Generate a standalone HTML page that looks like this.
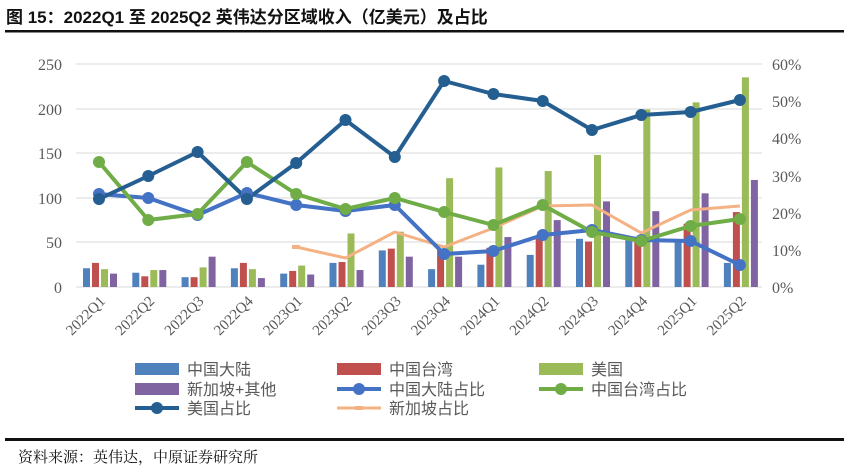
<!DOCTYPE html>
<html><head><meta charset="utf-8"><style>
html,body{margin:0;padding:0;background:#fff;}
svg{display:block;}
</style></head><body>
<svg width="844" height="472" viewBox="0 0 844 472" xmlns="http://www.w3.org/2000/svg">
<text x="6" y="23" font-family="Liberation Sans, Noto Sans CJK SC, sans-serif" font-size="17" font-weight="bold" fill="#111">图 15：2022Q1 至 2025Q2 英伟达分区域收入（亿美元）及占比</text>
<rect x="5" y="30" width="839" height="2.5" fill="#111"/>
<g stroke="#d9d9d9" stroke-width="1">
<line x1="76" y1="64" x2="762" y2="64"/><line x1="76" y1="109" x2="762" y2="109"/><line x1="76" y1="153" x2="762" y2="153"/><line x1="76" y1="198" x2="762" y2="198"/><line x1="76" y1="242" x2="762" y2="242"/><line x1="76" y1="287" x2="762" y2="287"/>
</g>
<g font-family="Liberation Serif, serif" font-size="16" fill="#595959">
<g text-anchor="end"><text x="62" y="70">250</text><text x="62" y="115">200</text><text x="62" y="159">150</text><text x="62" y="204">100</text><text x="62" y="248">50</text><text x="62" y="293">0</text></g>
<g><text x="772" y="70">60%</text><text x="772" y="107">50%</text><text x="772" y="144">40%</text><text x="772" y="182">30%</text><text x="772" y="219">20%</text><text x="772" y="256">10%</text><text x="772" y="293">0%</text></g>
</g>
<g transform="translate(0,287) scale(1,-0.892)">
<g fill="#4F81BD">
<rect x="83" y="0" width="7" height="21"/><rect x="132.3" y="0" width="7" height="16"/><rect x="181.6" y="0" width="7" height="11"/><rect x="230.9" y="0" width="7" height="21"/><rect x="280.2" y="0" width="7" height="15"/><rect x="329.5" y="0" width="7" height="27"/><rect x="378.8" y="0" width="7" height="41"/><rect x="428.1" y="0" width="7" height="20"/><rect x="477.4" y="0" width="7" height="25"/><rect x="526.7" y="0" width="7" height="36"/><rect x="576" y="0" width="7" height="54"/><rect x="625.3" y="0" width="7" height="53"/><rect x="674.6" y="0" width="7" height="53"/><rect x="723.9" y="0" width="7" height="27"/>
</g>
<g fill="#C0504D">
<rect x="92" y="0" width="7" height="27"/><rect x="141.3" y="0" width="7" height="12"/><rect x="190.6" y="0" width="7" height="11"/><rect x="239.9" y="0" width="7" height="27"/><rect x="289.2" y="0" width="7" height="18"/><rect x="338.5" y="0" width="7" height="28"/><rect x="387.8" y="0" width="7" height="43"/><rect x="437.1" y="0" width="7" height="43"/><rect x="486.4" y="0" width="7" height="44"/><rect x="535.7" y="0" width="7" height="56"/><rect x="585" y="0" width="7" height="51"/><rect x="634.3" y="0" width="7" height="51"/><rect x="683.6" y="0" width="7" height="71"/><rect x="732.9" y="0" width="7" height="84"/>
</g>
<g fill="#9BBB59">
<rect x="101" y="0" width="7" height="20"/><rect x="150.3" y="0" width="7" height="19"/><rect x="199.6" y="0" width="7" height="22"/><rect x="248.9" y="0" width="7" height="20"/><rect x="298.2" y="0" width="7" height="24"/><rect x="347.5" y="0" width="7" height="60"/><rect x="396.8" y="0" width="7" height="62"/><rect x="446.1" y="0" width="7" height="122"/><rect x="495.4" y="0" width="7" height="134"/><rect x="544.7" y="0" width="7" height="130"/><rect x="594" y="0" width="7" height="148"/><rect x="643.3" y="0" width="7" height="199"/><rect x="692.6" y="0" width="7" height="207"/><rect x="741.9" y="0" width="7" height="235"/>
</g>
<g fill="#8064A2">
<rect x="110" y="0" width="7" height="15"/><rect x="159.3" y="0" width="7" height="19"/><rect x="208.6" y="0" width="7" height="34"/><rect x="257.9" y="0" width="7" height="10"/><rect x="307.2" y="0" width="7" height="14"/><rect x="356.5" y="0" width="7" height="19"/><rect x="405.8" y="0" width="7" height="34"/><rect x="455.1" y="0" width="7" height="34"/><rect x="504.4" y="0" width="7" height="56"/><rect x="553.7" y="0" width="7" height="75"/><rect x="603" y="0" width="7" height="96"/><rect x="652.3" y="0" width="7" height="85"/><rect x="701.6" y="0" width="7" height="105"/><rect x="750.9" y="0" width="7" height="120"/>
</g>
</g>
<g fill="none" stroke-width="4" stroke-linejoin="round">
<polyline stroke="#F4B183" stroke-width="3" points="296.2,247 345.5,258 394.8,232 444.1,247 493.4,228 542.7,206 592,205 641.3,233 690.6,210 739.9,206"/>
<polyline stroke="#4472C4" points="99,194 148.3,198 197.6,215 246.9,193 296.2,205 345.5,211 394.8,205 444.1,254 493.4,251 542.7,235 592,230 641.3,240 690.6,241 739.9,265"/>
<polyline stroke="#70AD47" points="99,162 148.3,220 197.6,214 246.9,162 296.2,194 345.5,209 394.8,198 444.1,212 493.4,225 542.7,205 592,232 641.3,241 690.6,226 739.9,219"/>
<polyline stroke="#255E91" points="99,199 148.3,176 197.6,152 246.9,199 296.2,163 345.5,120 394.8,157 444.1,81 493.4,94 542.7,101 592,130 641.3,115 690.6,112 739.9,100"/>
</g>
<g fill="#F4B183"><rect x="292" y="245" width="8" height="4"/></g>
<g fill="#4472C4"><circle cx="99" cy="194" r="6"/><circle cx="148.3" cy="198" r="6"/><circle cx="197.6" cy="215" r="6"/><circle cx="246.9" cy="193" r="6"/><circle cx="296.2" cy="205" r="6"/><circle cx="345.5" cy="211" r="6"/><circle cx="394.8" cy="205" r="6"/><circle cx="444.1" cy="254" r="6"/><circle cx="493.4" cy="251" r="6"/><circle cx="542.7" cy="235" r="6"/><circle cx="592" cy="230" r="6"/><circle cx="641.3" cy="240" r="6"/><circle cx="690.6" cy="241" r="6"/><circle cx="739.9" cy="265" r="6"/></g>
<g fill="#70AD47"><circle cx="99" cy="162" r="6"/><circle cx="148.3" cy="220" r="6"/><circle cx="197.6" cy="214" r="6"/><circle cx="246.9" cy="162" r="6"/><circle cx="296.2" cy="194" r="6"/><circle cx="345.5" cy="209" r="6"/><circle cx="394.8" cy="198" r="6"/><circle cx="444.1" cy="212" r="6"/><circle cx="493.4" cy="225" r="6"/><circle cx="542.7" cy="205" r="6"/><circle cx="592" cy="232" r="6"/><circle cx="641.3" cy="241" r="6"/><circle cx="690.6" cy="226" r="6"/><circle cx="739.9" cy="219" r="6"/></g>
<g fill="#255E91"><circle cx="99" cy="199" r="6"/><circle cx="148.3" cy="176" r="6"/><circle cx="197.6" cy="152" r="6"/><circle cx="246.9" cy="199" r="6"/><circle cx="296.2" cy="163" r="6"/><circle cx="345.5" cy="120" r="6"/><circle cx="394.8" cy="157" r="6"/><circle cx="444.1" cy="81" r="6"/><circle cx="493.4" cy="94" r="6"/><circle cx="542.7" cy="101" r="6"/><circle cx="592" cy="130" r="6"/><circle cx="641.3" cy="115" r="6"/><circle cx="690.6" cy="112" r="6"/><circle cx="739.9" cy="100" r="6"/></g>
<g font-family="Liberation Serif, serif" font-size="15" fill="#595959" text-anchor="end">
<text transform="translate(106,302) rotate(-45)">2022Q1</text>
<text transform="translate(155.3,302) rotate(-45)">2022Q2</text>
<text transform="translate(204.6,302) rotate(-45)">2022Q3</text>
<text transform="translate(253.9,302) rotate(-45)">2022Q4</text>
<text transform="translate(303.2,302) rotate(-45)">2023Q1</text>
<text transform="translate(352.5,302) rotate(-45)">2023Q2</text>
<text transform="translate(401.8,302) rotate(-45)">2023Q3</text>
<text transform="translate(451.1,302) rotate(-45)">2023Q4</text>
<text transform="translate(500.4,302) rotate(-45)">2024Q1</text>
<text transform="translate(549.7,302) rotate(-45)">2024Q2</text>
<text transform="translate(599,302) rotate(-45)">2024Q3</text>
<text transform="translate(648.3,302) rotate(-45)">2024Q4</text>
<text transform="translate(697.6,302) rotate(-45)">2025Q1</text>
<text transform="translate(746.9,302) rotate(-45)">2025Q2</text>
</g>
<g>
<rect x="135" y="363" width="44" height="12" fill="#4F81BD"/>
<rect x="337" y="363" width="44" height="12" fill="#C0504D"/>
<rect x="539" y="363" width="44" height="12" fill="#9BBB59"/>
<rect x="135" y="383" width="44" height="12" fill="#8064A2"/>
<line x1="337" y1="389" x2="381" y2="389" stroke="#4472C4" stroke-width="4"/><circle cx="359" cy="389" r="6" fill="#4472C4"/>
<line x1="539" y1="389" x2="583" y2="389" stroke="#70AD47" stroke-width="4"/><circle cx="561" cy="389" r="6" fill="#70AD47"/>
<line x1="135" y1="408" x2="179" y2="408" stroke="#255E91" stroke-width="4"/><circle cx="157" cy="408" r="6" fill="#255E91"/>
<line x1="337" y1="408" x2="381" y2="408" stroke="#F4B183" stroke-width="3"/><rect x="355" y="406" width="8" height="4" fill="#F4B183"/>
</g>
<g font-family="Liberation Sans, Noto Sans CJK SC, sans-serif" font-size="16" fill="#595959">
<text x="187" y="375">中国大陆</text><text x="389" y="375">中国台湾</text><text x="591" y="375">美国</text>
<text x="187" y="395">新加坡+其他</text><text x="389" y="395">中国大陆占比</text><text x="591" y="395">中国台湾占比</text>
<text x="187" y="414">美国占比</text><text x="389" y="414">新加坡占比</text>
</g>
<rect x="5" y="438" width="839" height="3" fill="#111"/>
<text x="18" y="462" font-family="Noto Serif CJK SC, serif" font-size="15" fill="#111">资料来源：英伟达，中原证券研究所</text>
</svg>
</body></html>
